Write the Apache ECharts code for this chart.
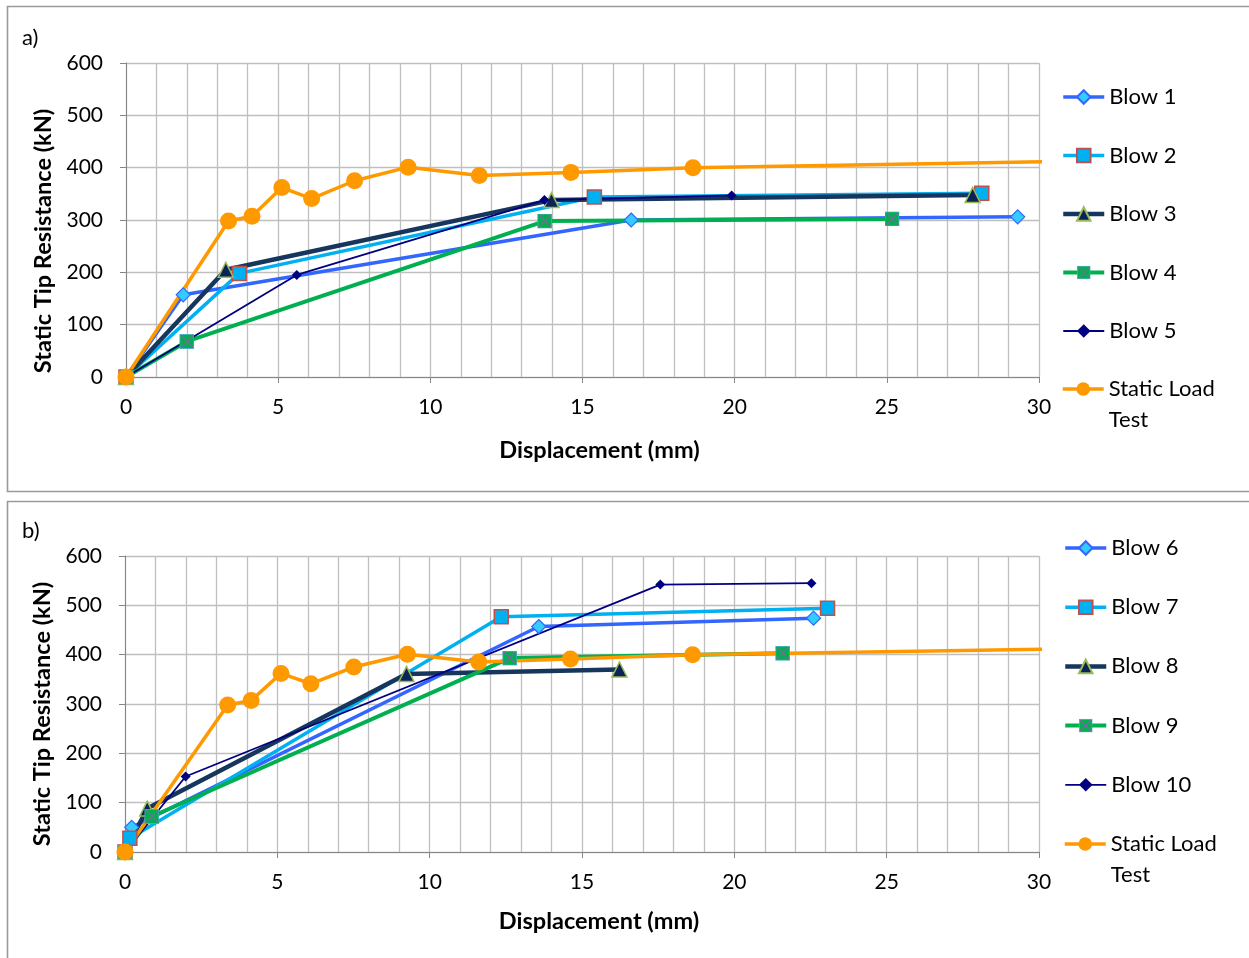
<!DOCTYPE html>
<html>
<head>
<meta charset="utf-8">
<script src="https://cdn.jsdelivr.net/npm/echarts@6/dist/echarts.min.js"></script>
<style>
html,body{margin:0;padding:0;background:#fff;}
#c{width:1249px;height:958px;}
</style>
</head>
<body>
<div id="c"></div>
<script>
// ---- data (displacement mm, static tip resistance kN) ----
var xTicks = [0, 5, 10, 15, 20, 25, 30];
var yTicks = [0, 100, 200, 300, 400, 500, 600];

var staticLoadTest = [[0,0],[3.37,298],[4.14,307],[5.12,362],[6.10,341],[7.51,375],[9.27,401],[11.61,385],[14.62,391],[18.63,400],[35,416]];

var blow1 = [[0,0],[1.88,157],[16.6,300],[29.3,306]];
var blow2 = [[0,0],[3.72,198],[15.39,344],[28.12,351]];
var blow3 = [[0,0],[3.28,205],[13.98,338],[27.82,348]];
var blow4 = [[0,0],[2.0,68],[13.76,298],[25.17,302]];
var blow5 = [[0,0],[5.61,195],[13.75,338],[19.9,347]];

var blow6 = [[0,0],[0.22,50],[13.58,457],[22.6,474]];
var blow7 = [[0,0],[0.16,28],[12.35,477],[23.06,494]];
var blow8 = [[0,0],[0.73,88],[9.24,361],[16.23,370]];
var blow9 = [[0,0],[0.88,72],[12.63,393],[21.59,403]];
var blow10 = [[0,0],[1.99,153],[17.57,542],[22.53,545]];

var topNames = ['Blow 1','Blow 2','Blow 3','Blow 4','Blow 5'];
var botNames = ['Blow 6','Blow 7','Blow 8','Blow 9','Blow 10'];
var staticName = 'Static Load Test';

// ---- styles ----
var FONT = 'Lato';
var xSvg = "<svg xmlns='http://www.w3.org/2000/svg' width='16' height='16'><rect x='0.5' y='0.5' width='15' height='15' fill='#00B050' stroke='#4BACC6' stroke-width='1'/><path d='M1.5,1.5L14.5,14.5M14.5,1.5L1.5,14.5' stroke='#8064A2' stroke-width='1.3'/></svg>";
var xSymbol = 'image://data:image/svg+xml;charset=utf-8,' + encodeURIComponent(xSvg);

var styles = [
  {line:'#3366FF', w:3.5, symbol:'diamond', size:14, fill:'#33CCFF', border:'#3366FF', bw:1.2},
  {line:'#00B0F0', w:3.5, symbol:'rect', size:14, fill:'#00B0F0', border:'#C0504D', bw:1.5},
  {line:'#17365D', w:4.5, symbol:'triangle', size:15, fill:'#0B2356', border:'#9BBB59', bw:1.5},
  {line:'#00B050', w:4, symbol:xSymbol, size:15, fill:'#00B050', border:'#00B050', bw:0},
  {line:'#000080', w:1.8, symbol:'diamond', size:10, fill:'#000080', border:'#000080', bw:0}
];
var staticStyle = {line:'#FF9900', w:3.5, symbol:'circle', size:17, fill:'#FF9900', border:'#FF9900', bw:0};

function mkSeries(name, data, st, idx){
  return {
    name: name, type: 'line', data: data,
    xAxisIndex: idx, yAxisIndex: idx,
    symbol: st.symbol, symbolSize: st.size,
    showAllSymbol: true, clip: true,
    lineStyle: {color: st.line, width: st.w},
    itemStyle: {color: st.fill, borderColor: st.border, borderWidth: st.bw},
    emphasis: {disabled: true},
    animation: false
  };
}

var series = [];
[blow1, blow2, blow3, blow4, blow5].forEach(function(d, i){ series.push(mkSeries(topNames[i], d, styles[i], 0)); });
series.push(mkSeries(staticName, staticLoadTest, staticStyle, 0));
[blow6, blow7, blow8, blow9, blow10].forEach(function(d, i){ series.push(mkSeries(botNames[i], d, styles[i], 1)); });
series.push(mkSeries(staticName, staticLoadTest, staticStyle, 1));

function xAxis(gi, nameGap){
  return {
    type: 'value', gridIndex: gi, min: xTicks[0], max: xTicks[xTicks.length-1], interval: xTicks[1]-xTicks[0],
    name: 'Displacement (mm)', nameLocation: 'middle', nameGap: nameGap,
    nameTextStyle: {fontFamily: FONT, fontSize: 23.5, fontWeight: 'bold', color: '#000', padding: [0,0,0,34]},
    axisLine: {show: true, onZero: false, lineStyle: {color: '#868686', width: 1}},
    axisTick: {show: true, length: 6, lineStyle: {color: '#868686'}},
    axisLabel: {fontFamily: FONT, fontSize: 21, color: '#000', margin: 20},
    splitLine: {show: true, lineStyle: {color: '#BFBFBF', width: 1.3}},
    minorTick: {show: false, splitNumber: 5},
    minorSplitLine: {show: true, lineStyle: {color: '#BFBFBF', width: 1.3}}
  };
}
function yAxis(gi, shift){
  return {
    type: 'value', gridIndex: gi, min: yTicks[0], max: yTicks[yTicks.length-1], interval: yTicks[1]-yTicks[0],
    name: 'Static Tip Resistance (kN)', nameLocation: 'middle', nameGap: 70,
    nameTextStyle: {fontFamily: FONT, fontSize: 23.5, fontWeight: 'bold', color: '#000', padding: [0, shift, 0, 0]},
    axisLine: {show: true, onZero: false, lineStyle: {color: '#868686', width: 1}},
    axisTick: {show: true, length: 6, lineStyle: {color: '#868686'}},
    axisLabel: {fontFamily: FONT, fontSize: 21, color: '#000', margin: 23},
    splitLine: {show: true, lineStyle: {color: '#BFBFBF', width: 1.3}}
  };
}

function legend(names, left, top, gap){
  return {
    data: names, orient: 'vertical', left: left, top: top, padding: 0,
    itemWidth: 41, itemHeight: 17, itemGap: gap,
    lineStyle: {width: 'inherit'},
    textStyle: {fontFamily: FONT, fontSize: 22, color: '#000', lineHeight: 30},
    selectedMode: false
  };
}
function staticLegend(left, top){
  return {
    data: [{name: staticName}], orient: 'vertical', left: left, top: top, padding: 0,
    itemWidth: 41, itemHeight: 17,
    lineStyle: {width: 'inherit'},
    formatter: function(){ return ' \nStatic Load\nTest'; },
    textStyle: {fontFamily: FONT, fontSize: 22, color: '#000', lineHeight: 31},
    selectedMode: false
  };
}

var option = {
  backgroundColor: '#fff',
  animation: false,
  graphic: [
    {type: 'rect', shape: {x: 7.5, y: 6.5, width: 1260, height: 485}, style: {fill: 'none', stroke: '#9a9a9a', lineWidth: 1.6}, silent: true, z: -10},
    {type: 'rect', shape: {x: 7.5, y: 501.5, width: 1260, height: 480}, style: {fill: 'none', stroke: '#9a9a9a', lineWidth: 1.6}, silent: true, z: -10},
    {type: 'text', left: 22, top: 27, style: {text: 'a)', font: '22px Lato', fill: '#000'}},
    {type: 'text', left: 22, top: 520, style: {text: 'b)', font: '22px Lato', fill: '#000'}}
  ],
  grid: [
    {left: 126, top: 63, width: 913, height: 314, containLabel: false},
    {left: 125, top: 556, width: 914, height: 296, containLabel: false}
  ],
  xAxis: [xAxis(0, 61), xAxis(1, 57)],
  yAxis: [yAxis(0, 42), yAxis(1, 20)],
  legend: [
    legend(topNames, 1061, 82, 28.5),
    staticLegend(1061, 389 - 46.5),
    legend(botNames, 1063, 533, 29.2),
    staticLegend(1063, 844 - 46.5)
  ],
  series: series
};

var chart = echarts.init(document.getElementById('c'), null, {renderer: 'canvas'});
chart.setOption(option);
</script>
</body>
</html>
